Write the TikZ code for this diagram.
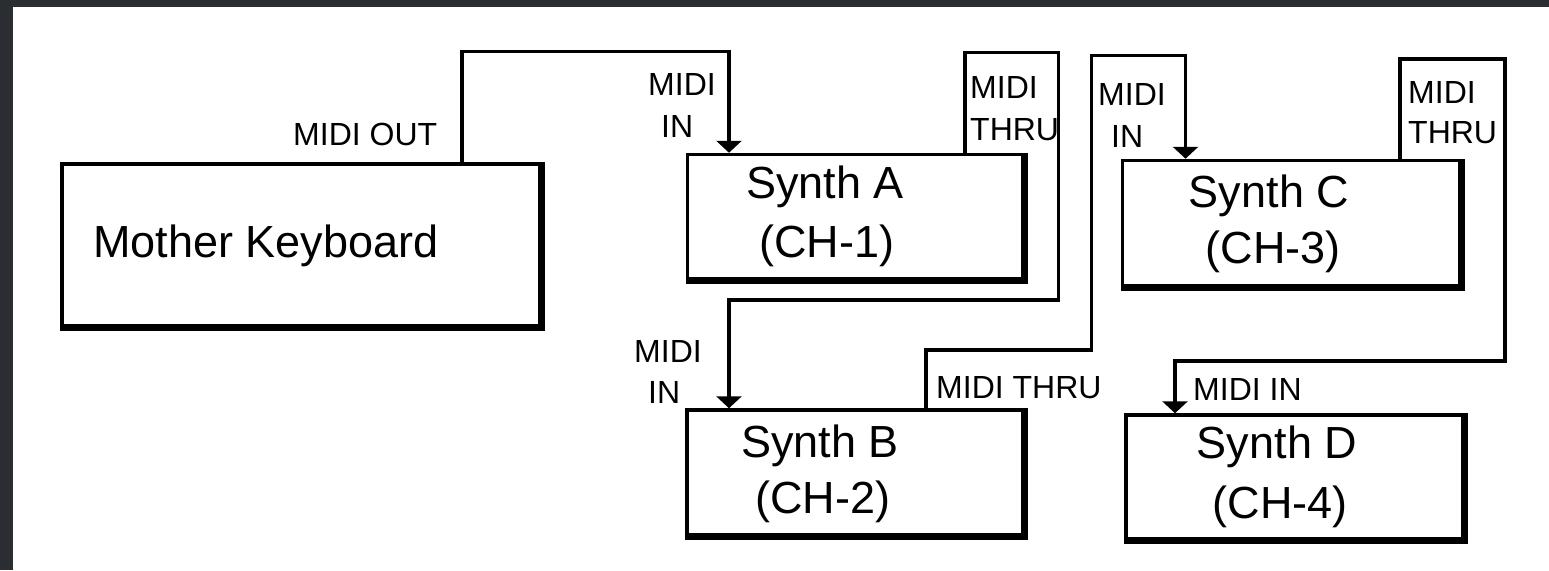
\documentclass[tikz,border=0pt]{standalone}
\usepackage{fontspec}
\setmainfont{Liberation Sans}
\usetikzlibrary{arrows.meta}
\definecolor{framecol}{HTML}{2A2E32}
\tikzset{
  box/.style={draw, line width=3.5pt, fill=white, inner sep=0pt},
  conn/.style={draw, line width=3.5pt, line join=miter},
  arr/.style={-{Triangle[width=25pt,length=12pt]}},
  lab/.style={font=\fontsize{32}{32}\selectfont, inner sep=0pt, anchor=base west},
  big/.style={font=\fontsize{45}{45}\selectfont, inner sep=0pt, anchor=base},
}
\begin{document}
\begin{tikzpicture}[x=1pt,y=-1pt]
\useasboundingbox (0,0) rectangle (1549,570);
\fill[framecol] (0,0) rectangle (1549,570);
\fill[white] (13,7) rectangle (1549,570);

% boxes
\node[box, minimum width=478pt, minimum height=162pt] (M) at (301,245) {};
\node[box, minimum width=335.5pt, minimum height=124.5pt] (A) at (855.25,216.75) {};
\node[box, minimum width=336pt, minimum height=125pt] (B) at (855,472.5) {};
\node[box, minimum width=337.5pt, minimum height=125.5pt] (C) at (1291.25,223.25) {};
\node[box, minimum width=337pt, minimum height=124pt] (D) at (1294.5,477) {};
\foreach \b in {M,A,B,C,D}{
  \fill ([xshift=-3.5pt]\b.north east) rectangle ([xshift=3.25pt,yshift=-3.25pt]\b.south east);
  \fill ([yshift=3.5pt]\b.south west) rectangle ([xshift=3.25pt,yshift=-3.25pt]\b.south east);
}

% box texts
\node[lab, font=\fontsize{45}{45}\selectfont] (tM) at (93,257) {Mother Keyboard};
\node[big] (tA1) at (825,198) {Synth A};
\node[big] (tA2) at (827,257) {(CH-1)};
\node[big] (tB1) at (820,457) {Synth B};
\node[big] (tB2) at (823,513) {(CH-2)};
\node[big] (tC1) at (1269,207) {Synth C};
\node[big] (tC2) at (1273,263) {(CH-3)};
\node[big] (tD1) at (1277,458) {Synth D};
\node[big] (tD2) at (1280,518) {(CH-4)};

% connectors
\draw[conn, arr] (462,0 |- M.north) |- (729,51.5) -- (729,0 |- A.north);
\draw[conn, arr] (965,0 |- A.north) |- (1058.5,52.5) |- (729,300) -- (729,0 |- B.north);
\draw[conn, arr] (926,0 |- B.north) |- (1091.5,350) |- (1185.5,55.5) -- (1185.5,0 |- C.north);
\draw[conn, arr] (1400,0 |- C.north) |- (1505,59) |- (1175,361) -- (1175,0 |- D.north);

% labels
\node[lab] (lOut) at (293,145) {MIDI OUT};
\node[lab] (lAi1) at (648,95) {MIDI};
\node[lab] (lAi2) at (661,137) {IN};
\node[lab] (lAt1) at (970,98) {MIDI};
\node[lab] (lAt2) at (970,140) {THRU};
\node[lab] (lBi1) at (634,362) {MIDI};
\node[lab] (lBi2) at (648,403) {IN};
\node[lab] (lBt) at (936,398) {MIDI THRU};
\node[lab] (lCi1) at (1098,105) {MIDI};
\node[lab] (lCi2) at (1111,147) {IN};
\node[lab] (lCt1) at (1408,103) {MIDI};
\node[lab] (lCt2) at (1408,143) {THRU};
\node[lab] (lDi) at (1193,400) {MIDI IN};
\end{tikzpicture}
\end{document}
